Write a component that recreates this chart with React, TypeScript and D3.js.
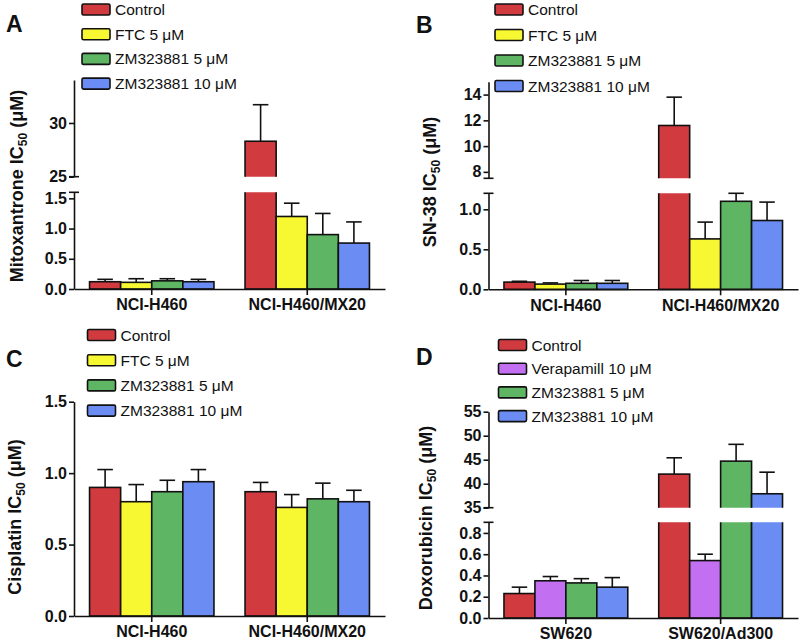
import React, { useEffect, useRef } from "react";
import * as d3 from "d3";

const width = 800;
const height = 642;
const font = "'Liberation Sans', Arial, Helvetica, sans-serif";

const red = "#d13b40";
const yellow = "#f8f832";
const green = "#5eb563";
const blue = "#6b8cf2";
const purple = "#c26ff2";

// categories
const cellLines = ["NCI-H460", "NCI-H460/MX20"];
const cellLinesD = ["SW620", "SW620/Ad300"];
const treatments = ["Control", "FTC 5 μM", "ZM323881 5 μM", "ZM323881 10 μM"];
const treatmentsD = ["Control", "Verapamill 10 μM", "ZM323881 5 μM", "ZM323881 10 μM"];

// IC50 means and SD (one row per cell line, one value per treatment)
const mitoxantroneMean = [[0.12, 0.11, 0.135, 0.12], [28.3, 1.2, 0.9, 0.76]];
const mitoxantroneErr = [[0.04, 0.06, 0.035, 0.04], [3.4, 0.22, 0.35, 0.35]];
const sn38Mean = [[0.09, 0.065, 0.075, 0.075], [11.6, 0.63, 1.1, 0.86]];
const sn38Err = [[0.01, 0.015, 0.035, 0.035], [2.2, 0.21, 0.1, 0.23]];
const cisplatinMean = [[0.9, 0.8, 0.87, 0.94], [0.87, 0.76, 0.82, 0.8]];
const cisplatinErr = [[0.125, 0.12, 0.08, 0.085], [0.065, 0.09, 0.11, 0.08]];
const doxorubicinMean = [[0.23, 0.35, 0.33, 0.29], [42.0, 0.54, 44.7, 37.9]];
const doxorubicinErr = [[0.06, 0.04, 0.04, 0.09], [3.4, 0.06, 3.5, 4.5]];

// axis ticks
const ticksA = [[0, 0.5, 1.0, 1.5], [25, 30]];
const ticksB = [[0, 0.5, 1.0], [8, 10, 12, 14]];
const ticksC = [[0, 0.5, 1.0, 1.5]];
const ticksD = [[0, 0.2, 0.4, 0.6, 0.8], [35, 40, 45, 50, 55]];

const Panel = ({ id, letter, letterPos, drug, titlePos, groups, series, colors, means, errs, xr, segments, legend }) => {
  const xAxisRef = useRef(null);
  const yAxisRefs = useRef([]);

  const baseY = segments[0].range[0];
  const x0 = d3.scaleBand().domain(groups).range(xr).paddingInner(0.2).paddingOuter(0.1);
  const x1 = d3.scaleBand().domain(series).range([0, x0.bandwidth()]);
  const ys = segments.map(s => d3.scaleLinear().domain(s.domain).range(s.range));

  useEffect(() => {
    const xAxis = d3.axisBottom(x0).tickSize(6).tickSizeOuter(0).tickPadding(4);
    const gx = d3.select(xAxisRef.current).call(xAxis);
    gx.selectAll("text").attr("font-size", 16).attr("font-weight", "bold").attr("font-family", font).attr("fill", "#111");
    gx.selectAll("path,line").attr("stroke-width", 1.6).attr("stroke", "#111");

    segments.forEach((s, i) => {
      const yAxis = d3
        .axisLeft(ys[i])
        .tickValues(s.ticks)
        .tickFormat(d3.format(s.format))
        .tickSize(5)
        .tickPadding(2)
        .tickSizeOuter(0);
      const gy = d3.select(yAxisRefs.current[i]).call(yAxis);
      gy.selectAll("text").attr("font-size", 16).attr("font-weight", "bold").attr("font-family", font).attr("fill", "#111");
      gy.selectAll("path,line").attr("stroke-width", 1.6).attr("stroke", "#111");
    });
  }, []);

  const ax = xr[0];

  return (
    <g>
      <defs>
        {segments.map((s, i) => (
          <clipPath id={`${id}-clip${i}`} key={i}>
            <rect x={xr[0]} y={s.range[1]} width={xr[1] - xr[0]} height={s.range[0] - s.range[1] + (i === 0 ? 2 : 0)} />
          </clipPath>
        ))}
      </defs>

      {segments.map((s, si) => (
        <g key={si} clipPath={`url(#${id}-clip${si})`}>
          {groups.map((g, gi) =>
            series.map((name, k) => {
              const v = means[gi][k];
              if (si > 0 && v <= s.domain[0]) return null;
              const y = ys[si](v);
              const bottom = si === 0 ? ys[si](0) : s.range[0] + 10;
              return (
                <rect
                  key={`${gi}-${k}`}
                  x={x0(g) + x1(name)}
                  y={y}
                  width={x1.bandwidth()}
                  height={bottom - y}
                  fill={colors[k]}
                  stroke="#111"
                  strokeWidth={1.6}
                />
              );
            })
          )}
        </g>
      ))}

      {segments.map((s, si) =>
        groups.map((g, gi) =>
          series.map((name, k) => {
            const v = means[gi][k];
            if (v < s.domain[0] || v > s.domain[1]) return null;
            const cx = x0(g) + x1(name) + x1.bandwidth() / 2;
            const yTop = ys[si](v + errs[gi][k]);
            const cw = x1.bandwidth() / 4;
            return (
              <g key={`e${si}-${gi}-${k}`} stroke="#111" strokeWidth={1.6}>
                <line x1={cx} x2={cx} y1={ys[si](v)} y2={yTop} />
                <line x1={cx - cw} x2={cx + cw} y1={yTop} y2={yTop} />
              </g>
            );
          })
        )
      )}

      <g ref={xAxisRef} transform={`translate(0, ${baseY})`} />
      {segments.map((s, i) => (
        <g key={i} ref={el => (yAxisRefs.current[i] = el)} transform={`translate(${ax}, 0)`} />
      ))}
      {segments.length > 1 && (
        <g stroke="#111" strokeWidth={1.6}>
          <line x1={ax - 5} x2={ax + 5} y1={segments[0].range[1]} y2={segments[0].range[1]} />
          <line x1={ax - 5} x2={ax + 5} y1={segments[1].range[0]} y2={segments[1].range[0]} />
        </g>
      )}

      <text x={letterPos[0]} y={letterPos[1]} fontSize={23} fontWeight="bold" fontFamily={font} fill="#111">
        {letter}
      </text>

      <text
        transform={`translate(${titlePos[0]}, ${titlePos[1]}) rotate(-90)`}
        textAnchor="middle"
        fontSize={18}
        fontWeight="bold"
        fontFamily={font}
        fill="#111"
      >
        {drug} IC<tspan fontSize={12} dy={4}>50</tspan>
        <tspan dy={-4}> (μM)</tspan>
      </text>

      {series.map((name, i) => {
        const cy = legend[1] + i * legend[2];
        return (
          <g key={name}>
            <rect x={legend[0]} y={cy - 5.5} width={28} height={11} rx={1.5} fill={colors[i]} stroke="#111" strokeWidth={1.6} />
            <text x={legend[0] + 33} y={cy} dy="0.36em" fontSize={15.5} fontFamily={font} fill="#111">
              {name}
            </text>
          </g>
        );
      })}
    </g>
  );
};

const App = () => (
  <svg width={width} height={height} style={{ display: "block", position: "absolute", left: 0, top: 0, background: "#fff" }}>
    <Panel
      id="a"
      letter="A"
      letterPos={[6, 32]}
      drug="Mitoxantrone"
      titlePos={[23, 186]}
      groups={cellLines}
      series={treatments}
      colors={[red, yellow, green, blue]}
      means={mitoxantroneMean}
      errs={mitoxantroneErr}
      xr={[74, 385]}
      segments={[
        { domain: [0, 1.6], range: [289, 192.3], ticks: ticksA[0], format: ".1f" },
        { domain: [25, 34], range: [176.7, 80], ticks: ticksA[1], format: "d" }
      ]}
      legend={[82, 9.5, 24.7]}
    />
    <Panel
      id="b"
      letter="B"
      letterPos={[416, 33]}
      drug="SN-38"
      titlePos={[436, 182]}
      groups={cellLines}
      series={treatments}
      colors={[red, yellow, green, blue]}
      means={sn38Mean}
      errs={sn38Err}
      xr={[488.5, 798]}
      segments={[
        { domain: [0, 1.2], range: [289.3, 193.3], ticks: ticksB[0], format: ".1f" },
        { domain: [7.5, 15], range: [178.3, 81.7], ticks: ticksB[1], format: "d" }
      ]}
      legend={[495, 9.5, 25.5]}
    />
    <Panel
      id="c"
      letter="C"
      letterPos={[6, 367]}
      drug="Cisplatin"
      titlePos={[21, 517]}
      groups={cellLines}
      series={treatments}
      colors={[red, yellow, green, blue]}
      means={cisplatinMean}
      errs={cisplatinErr}
      xr={[74, 385]}
      segments={[{ domain: [0, 1.5], range: [616, 401.7], ticks: ticksC[0], format: ".1f" }]}
      legend={[87.5, 335, 25.2]}
    />
    <Panel
      id="d"
      letter="D"
      letterPos={[416, 365]}
      drug="Doxorubicin"
      titlePos={[432, 518]}
      groups={cellLinesD}
      series={treatmentsD}
      colors={[red, purple, green, blue]}
      means={doxorubicinMean}
      errs={doxorubicinErr}
      xr={[488.5, 798]}
      segments={[
        { domain: [0, 0.9], range: [618, 522.3], ticks: ticksD[0], format: ".1f" },
        { domain: [35, 55], range: [507.7, 411.7], ticks: ticksD[1], format: "d" }
      ]}
      legend={[498.5, 345, 23.7]}
    />
  </svg>
);

export default App;
